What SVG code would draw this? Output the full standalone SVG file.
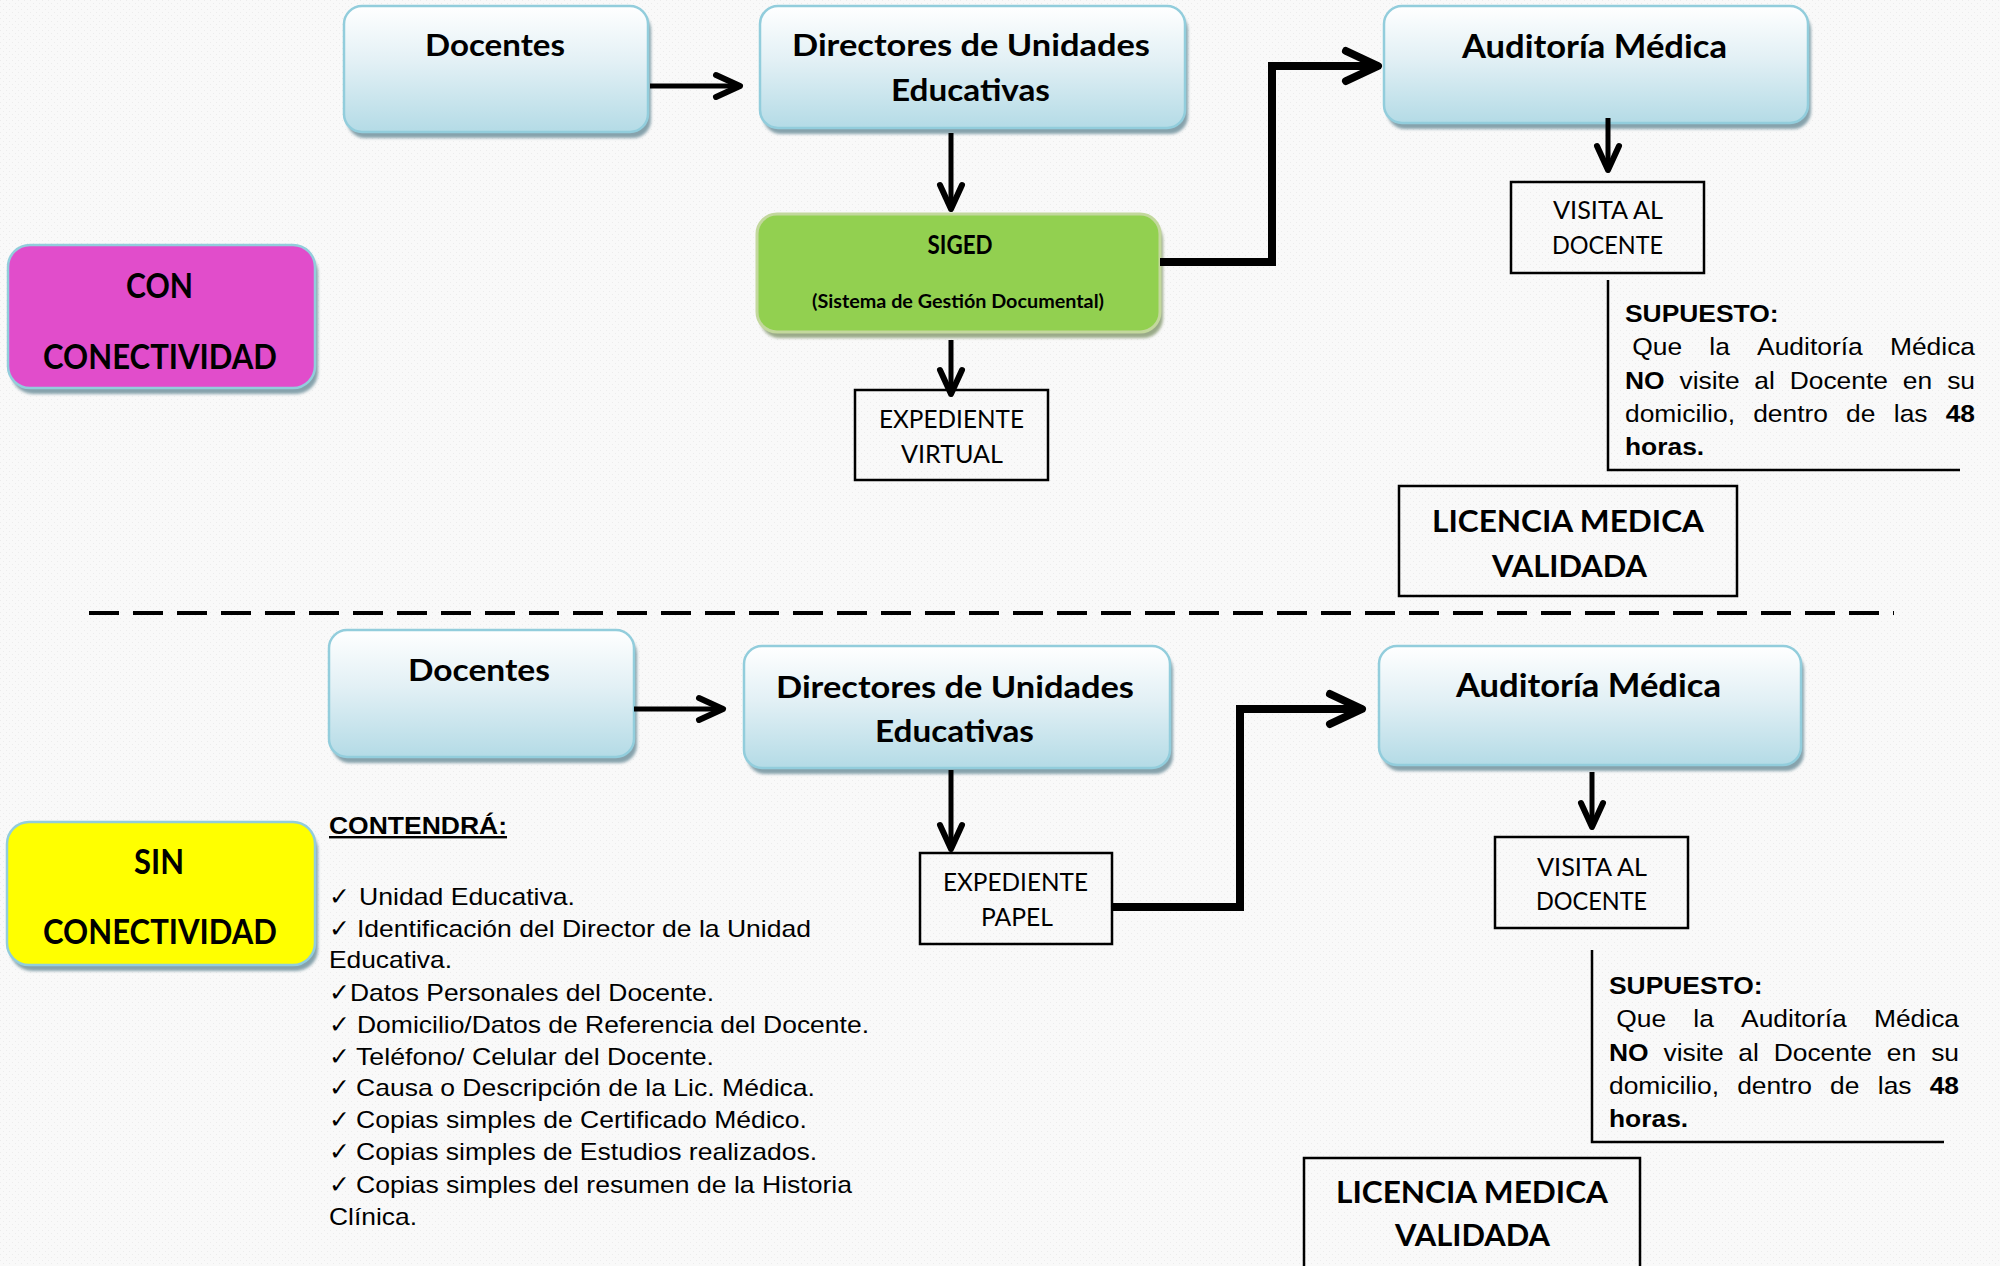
<svg xmlns="http://www.w3.org/2000/svg" width="2000" height="1266" viewBox="0 0 2000 1266">
<style>
.t{font-family:Lato,"Liberation Sans",sans-serif;font-weight:700;fill:#000}
.r{font-family:Lato,"Liberation Sans",sans-serif;font-weight:400;fill:#000}
.a{font-family:"Liberation Sans",Arial,sans-serif;font-size:24px;fill:#000}
.b{font-weight:700}
.chk{font-family:"DejaVu Sans",sans-serif;font-size:25px;fill:#000}
.box{fill:none;stroke:#000;stroke-width:2.5}
.blue{fill:url(#gb);stroke:#92cddc;stroke-width:2.5}
.sh{fill:#86a2ac;filter:url(#bl)}
.c{fill:none;stroke:#000;stroke-width:5;marker-end:url(#ah)}
.cl{fill:none;stroke:#000;stroke-width:8;stroke-linejoin:miter;marker-end:url(#ahL)}
.br{fill:none;stroke:#000;stroke-width:2.5}
</style>
<defs>
<linearGradient id="gb" x1="0" y1="0" x2="0" y2="1">
<stop offset="0" stop-color="#ffffff"/>
<stop offset="0.45" stop-color="#e2f0f5"/>
<stop offset="1" stop-color="#b4dbe6"/>
</linearGradient>
<filter id="bl" x="-5%" y="-5%" width="110%" height="115%"><feGaussianBlur stdDeviation="1.5"/></filter>
<pattern id="bg" width="6" height="6" patternUnits="userSpaceOnUse">
<rect width="6" height="6" fill="#f9f9f9"/>
<rect x="0" y="0" width="1" height="1" fill="#ececec"/>
<rect x="3" y="3" width="1" height="1" fill="#ececec"/>
</pattern>
<marker id="ah" markerUnits="userSpaceOnUse" orient="auto" overflow="visible" markerWidth="40" markerHeight="40" refX="0" refY="0">
<path d="M-24,-11 L0,0 L-24,11" fill="none" stroke="#000" stroke-width="6" stroke-linecap="round" stroke-linejoin="round"/>
</marker>
<marker id="ahL" markerUnits="userSpaceOnUse" orient="auto" overflow="visible" markerWidth="50" markerHeight="50" refX="0" refY="0">
<path d="M-32,-15 L0,0 L-32,15" fill="none" stroke="#000" stroke-width="8" stroke-linecap="round" stroke-linejoin="round"/>
</marker>
</defs>
<rect width="2000" height="1266" fill="url(#bg)"/>

<!-- separator -->
<line x1="89" y1="613" x2="1894" y2="613" stroke="#000" stroke-width="4" stroke-dasharray="30 14"/>

<!-- ===== CON CONECTIVIDAD ===== -->
<g id="con-conectividad">
<rect class="sh" x="11" y="251" width="307" height="143" rx="22"/>
<rect x="8" y="245" width="307" height="143" rx="22" fill="#e14dcb" stroke="#92cddc" stroke-width="2.5"/>
<text class="t" x="126" y="298" font-size="34" textLength="67" lengthAdjust="spacingAndGlyphs">CON</text>
<text class="t" x="43" y="369" font-size="34" textLength="234" lengthAdjust="spacingAndGlyphs">CONECTIVIDAD</text>
</g>

<g id="docentes-1">
<rect class="sh" x="347" y="12" width="304" height="126" rx="18"/>
<rect class="blue" x="344" y="6" width="304" height="126" rx="18"/>
<text class="t" x="425" y="56" font-size="31" textLength="140" lengthAdjust="spacingAndGlyphs">Docentes</text>
</g>

<g id="directores-1">
<rect class="sh" x="763" y="12" width="425" height="122" rx="18"/>
<rect class="blue" x="760" y="6" width="425" height="122" rx="18"/>
<text class="t" x="792" y="56" font-size="31" textLength="358" lengthAdjust="spacingAndGlyphs">Directores de Unidades</text>
<text class="t" x="891" y="101" font-size="31" textLength="159" lengthAdjust="spacingAndGlyphs">Educativas</text>
</g>

<g id="auditoria-1">
<rect class="sh" x="1387" y="12" width="424" height="117" rx="18"/>
<rect class="blue" x="1384" y="6" width="424" height="117" rx="18"/>
<text class="t" x="1462" y="58" font-size="32" textLength="265" lengthAdjust="spacingAndGlyphs">Auditoría Médica</text>
</g>

<g id="siged">
<rect x="760" y="220" width="403" height="118" rx="20" fill="#9aaa88" filter="url(#bl)"/>
<rect x="757" y="214" width="403" height="118" rx="20" fill="#92d050" stroke="#c3d89d" stroke-width="3"/>
<text class="t" x="927.5" y="254" font-size="26" textLength="65" lengthAdjust="spacingAndGlyphs">SIGED</text>
<text class="t" x="812" y="308" font-size="19.5" textLength="292" lengthAdjust="spacingAndGlyphs">(Sistema de Gestión Documental)</text>
</g>

<g id="expediente-virtual">
<rect class="box" x="855" y="390" width="193" height="90"/>
<text class="r" x="879" y="428" font-size="25" textLength="145" lengthAdjust="spacingAndGlyphs">EXPEDIENTE</text>
<text class="r" x="901" y="463" font-size="25" textLength="102" lengthAdjust="spacingAndGlyphs">VIRTUAL</text>
</g>

<g id="visita-1">
<rect class="box" x="1511" y="182" width="193" height="91"/>
<text class="r" x="1553" y="219" font-size="25" textLength="110" lengthAdjust="spacingAndGlyphs">VISITA AL</text>
<text class="r" x="1552" y="254" font-size="25" textLength="111" lengthAdjust="spacingAndGlyphs">DOCENTE</text>
</g>

<g id="supuesto-1">
<path class="br" d="M1608,280 V470 H1960"/>
<g transform="translate(1625,322) scale(1.1,1)">
<text class="a b" x="0" y="0">SUPUESTO:</text>
<text class="a" y="33.5"><tspan x="6.6">Que</tspan><tspan x="76.7">la</tspan><tspan x="120.1">Auditoría</tspan><tspan x="318.2" text-anchor="end">Médica</tspan></text>
<text class="a" y="67"><tspan x="0" class="b">NO</tspan><tspan x="49.5">visite</tspan><tspan x="117.6">al</tspan><tspan x="149.7">Docente</tspan><tspan x="252.6">en</tspan><tspan x="318.2" text-anchor="end">su</tspan></text>
<text class="a" y="100"><tspan x="0">domicilio,</tspan><tspan x="116.5">dentro</tspan><tspan x="201">de</tspan><tspan x="244.4">las</tspan><tspan x="318.2" text-anchor="end" class="b">48</tspan></text>
<text class="a b" x="0" y="133.5">horas.</text>
</g>
</g>

<g id="licencia-1">
<rect class="box" x="1399" y="486" width="338" height="110"/>
<text class="t" x="1432" y="532" font-size="31" textLength="272" lengthAdjust="spacingAndGlyphs">LICENCIA MEDICA</text>
<text class="t" x="1492" y="577" font-size="31" textLength="155" lengthAdjust="spacingAndGlyphs">VALIDADA</text>
</g>

<!-- ===== SIN CONECTIVIDAD ===== -->
<g id="sin-conectividad">
<rect class="sh" x="10" y="828" width="308" height="143" rx="22"/>
<rect x="7" y="822" width="308" height="143" rx="22" fill="#ffff00" stroke="#92cddc" stroke-width="2.5"/>
<text class="t" x="134" y="874" font-size="34" textLength="50" lengthAdjust="spacingAndGlyphs">SIN</text>
<text class="t" x="43" y="944" font-size="34" textLength="234" lengthAdjust="spacingAndGlyphs">CONECTIVIDAD</text>
</g>

<g id="docentes-2">
<rect class="sh" x="332" y="636" width="305" height="127" rx="18"/>
<rect class="blue" x="329" y="630" width="305" height="127" rx="18"/>
<text class="t" x="408" y="681" font-size="31" textLength="142" lengthAdjust="spacingAndGlyphs">Docentes</text>
</g>

<g id="directores-2">
<rect class="sh" x="747" y="652" width="426" height="122" rx="18"/>
<rect class="blue" x="744" y="646" width="426" height="122" rx="18"/>
<text class="t" x="776" y="698" font-size="31" textLength="358" lengthAdjust="spacingAndGlyphs">Directores de Unidades</text>
<text class="t" x="875" y="742" font-size="31" textLength="159" lengthAdjust="spacingAndGlyphs">Educativas</text>
</g>

<g id="auditoria-2">
<rect class="sh" x="1382" y="652" width="422" height="119" rx="18"/>
<rect class="blue" x="1379" y="646" width="422" height="119" rx="18"/>
<text class="t" x="1456" y="697" font-size="32" textLength="265" lengthAdjust="spacingAndGlyphs">Auditoría Médica</text>
</g>

<g id="expediente-papel">
<rect class="box" x="920" y="853" width="192" height="91"/>
<text class="r" x="943" y="891" font-size="25" textLength="145" lengthAdjust="spacingAndGlyphs">EXPEDIENTE</text>
<text class="r" x="981" y="926" font-size="25" textLength="72" lengthAdjust="spacingAndGlyphs">PAPEL</text>
</g>

<g id="visita-2">
<rect class="box" x="1495" y="837" width="193" height="91"/>
<text class="r" x="1537" y="876" font-size="25" textLength="110" lengthAdjust="spacingAndGlyphs">VISITA AL</text>
<text class="r" x="1536" y="910" font-size="25" textLength="111" lengthAdjust="spacingAndGlyphs">DOCENTE</text>
</g>

<g id="supuesto-2">
<path class="br" d="M1592,950 V1142 H1944"/>
<g transform="translate(1609,994) scale(1.1,1)">
<text class="a b" x="0" y="0">SUPUESTO:</text>
<text class="a" y="33.5"><tspan x="6.6">Que</tspan><tspan x="76.7">la</tspan><tspan x="120.1">Auditoría</tspan><tspan x="318.2" text-anchor="end">Médica</tspan></text>
<text class="a" y="67"><tspan x="0" class="b">NO</tspan><tspan x="49.5">visite</tspan><tspan x="117.6">al</tspan><tspan x="149.7">Docente</tspan><tspan x="252.6">en</tspan><tspan x="318.2" text-anchor="end">su</tspan></text>
<text class="a" y="100"><tspan x="0">domicilio,</tspan><tspan x="116.5">dentro</tspan><tspan x="201">de</tspan><tspan x="244.4">las</tspan><tspan x="318.2" text-anchor="end" class="b">48</tspan></text>
<text class="a b" x="0" y="133.5">horas.</text>
</g>
</g>

<g id="licencia-2">
<rect class="box" x="1304" y="1158" width="336" height="130"/>
<text class="t" x="1336" y="1203" font-size="31" textLength="272" lengthAdjust="spacingAndGlyphs">LICENCIA MEDICA</text>
<text class="t" x="1395" y="1246" font-size="31" textLength="155" lengthAdjust="spacingAndGlyphs">VALIDADA</text>
</g>

<g id="contendra">
<text class="a b" x="329" y="834" text-decoration="underline" textLength="178" lengthAdjust="spacingAndGlyphs">CONTENDRÁ:</text>
<text class="chk" x="329" y="905">✓</text>
<text class="a" x="359" y="905" textLength="216" lengthAdjust="spacingAndGlyphs">Unidad Educativa.</text>
<text class="chk" x="329" y="937">✓</text>
<text class="a" x="357" y="937" textLength="454" lengthAdjust="spacingAndGlyphs">Identificación del Director de la Unidad</text>
<text class="a" x="329" y="968" textLength="123" lengthAdjust="spacingAndGlyphs">Educativa.</text>
<text class="chk" x="329" y="1001">✓</text>
<text class="a" x="350" y="1001" textLength="364" lengthAdjust="spacingAndGlyphs">Datos Personales del Docente.</text>
<text class="chk" x="329" y="1033">✓</text>
<text class="a" x="357" y="1033" textLength="512" lengthAdjust="spacingAndGlyphs">Domicilio/Datos de Referencia del Docente.</text>
<text class="chk" x="329" y="1065">✓</text>
<text class="a" x="356" y="1065" textLength="358" lengthAdjust="spacingAndGlyphs">Teléfono/ Celular del Docente.</text>
<text class="chk" x="329" y="1096">✓</text>
<text class="a" x="356" y="1096" textLength="459" lengthAdjust="spacingAndGlyphs">Causa o Descripción de la Lic. Médica.</text>
<text class="chk" x="329" y="1128">✓</text>
<text class="a" x="356" y="1128" textLength="451" lengthAdjust="spacingAndGlyphs">Copias simples de Certificado Médico.</text>
<text class="chk" x="329" y="1160">✓</text>
<text class="a" x="356" y="1160" textLength="461" lengthAdjust="spacingAndGlyphs">Copias simples de Estudios realizados.</text>
<text class="chk" x="329" y="1193">✓</text>
<text class="a" x="356" y="1193" textLength="496" lengthAdjust="spacingAndGlyphs">Copias simples del resumen de la Historia</text>
<text class="a" x="329" y="1225" textLength="88" lengthAdjust="spacingAndGlyphs">Clínica.</text>
</g>

<!-- ===== connectors ===== -->
<g id="connectors">
<path class="c" d="M650,86 H740"/>
<path class="c" d="M951,133 V209"/>
<path class="c" d="M951,340 V394"/>
<path class="cl" d="M1160,262 H1272 V66 H1378"/>
<path class="c" d="M1608,118 V170"/>
<path class="c" d="M634,709 H723"/>
<path class="c" d="M951,770 V849"/>
<path class="cl" d="M1112,907 H1240 V709 H1362"/>
<path class="c" d="M1592,772 V827"/>
</g>
</svg>
